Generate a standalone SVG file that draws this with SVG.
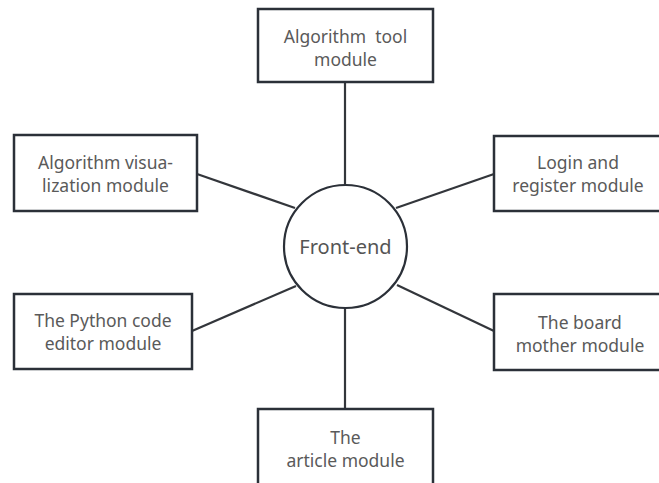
<svg xmlns="http://www.w3.org/2000/svg" width="659" height="483" viewBox="0 0 659 483">
  <style>
    .box { fill: #ffffff; stroke: #2b3038; stroke-width: 2.5; }
    .hub { fill: #ffffff; stroke: #2b3038; stroke-width: 2.2; }
    .link { stroke: #33363b; stroke-width: 2.2; fill: none; }
    .lbl { font-family: "Noto Sans", "Open Sans", sans-serif; font-size: 17.5px; fill: #5a5a5a; text-anchor: middle; dominant-baseline: central; white-space: pre; }
    .hubtxt { font-family: "Noto Sans", "Open Sans", sans-serif; font-size: 20px; fill: #555555; text-anchor: middle; dominant-baseline: central; }
  </style>
  <rect width="659" height="483" fill="#ffffff"/>

  <!-- spokes from the hub to each module -->
  <g id="connectors">
    <line class="link" x1="345" y1="82" x2="345" y2="185"/>
    <line class="link" x1="345" y1="308" x2="345" y2="409"/>
    <line class="link" x1="197" y1="174" x2="295" y2="208"/>
    <line class="link" x1="494" y1="174" x2="396" y2="208"/>
    <line class="link" x1="192" y1="331" x2="296" y2="286"/>
    <line class="link" x1="494" y1="331" x2="397" y2="285"/>
  </g>

  <g id="front-end">
    <circle class="hub" cx="345.5" cy="246.5" r="61.5"/>
    <text class="hubtxt" x="345.5" y="246.5">Front-end</text>
  </g>

  <g id="algorithm-tool">
    <rect class="box" x="258" y="9" width="175" height="73"/>
    <text class="lbl" x="345.5" y="36" xml:space="preserve">Algorithm  tool</text>
    <text class="lbl" x="345.5" y="59">module</text>
  </g>

  <g id="algorithm-visualization">
    <rect class="box" x="14" y="135" width="183" height="76"/>
    <text class="lbl" x="105.5" y="162">Algorithm visua-</text>
    <text class="lbl" x="105.5" y="185">lization module</text>
  </g>

  <g id="login-register">
    <rect class="box" x="494" y="136" width="190" height="75"/>
    <text class="lbl" x="578" y="162">Login and</text>
    <text class="lbl" x="578" y="185">register module</text>
  </g>

  <g id="python-editor">
    <rect class="box" x="14" y="294" width="178" height="75"/>
    <text class="lbl" x="103" y="320">The Python code</text>
    <text class="lbl" x="103" y="343">editor module</text>
  </g>

  <g id="board-mother">
    <rect class="box" x="494" y="294" width="190" height="76"/>
    <text class="lbl" x="580" y="322">The board</text>
    <text class="lbl" x="580" y="345">mother module</text>
  </g>

  <g id="article">
    <rect class="box" x="258" y="409" width="175" height="90"/>
    <text class="lbl" x="345.5" y="437">The</text>
    <text class="lbl" x="345.5" y="460">article module</text>
  </g>
</svg>
